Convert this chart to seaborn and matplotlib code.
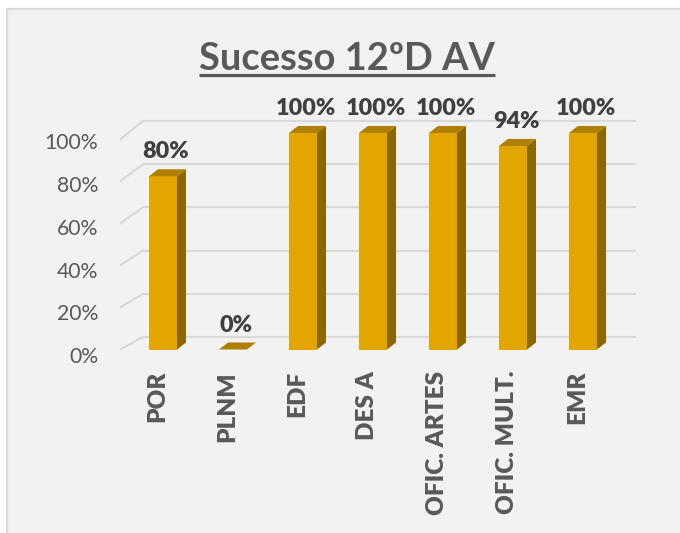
import matplotlib
matplotlib.use("Agg")
import matplotlib.pyplot as plt
from matplotlib.patches import Rectangle, Polygon
from matplotlib.lines import Line2D
from matplotlib.transforms import ScaledTranslation
import seaborn as sns
import pandas as pd

# Chart data
categories = ["POR", "PLNM", "EDF", "DES A", "OFIC. ARTES", "OFIC. MULT.", "EMR"]
success = [0.80, 0.00, 1.00, 1.00, 1.00, 0.94, 1.00]
tick_values = [0.0, 0.2, 0.4, 0.6, 0.8, 1.0]
tick_labels = ["0%", "20%", "40%", "60%", "80%", "100%"]
title = "Sucesso 12ºD AV"

# Styling
FRONT = "#E3A600"
SIDE = "#8C6700"
TOP = "#AF8000"
GRID = "#D9D9D9"
TEXT = "#595959"
LABEL = "#404040"
BG = "#F2F2F2"
FONT = "Lato"

sns.set_theme(style="white")
plt.rcParams["font.family"] = [FONT, "DejaVu Sans"]

W, H, DPI = 680, 533, 100
fig = plt.figure(figsize=(W / DPI, H / DPI), dpi=DPI)
fig.patch.set_facecolor("white")

# chart frame
fig.patches.append(Rectangle((7 / W, -0.2), 1.3, 1.2 - 9 / H, transform=fig.transFigure,
                             facecolor=BG, edgecolor=GRID, lw=1.6, zorder=-10))

# plot area: front plane spans pixel x 120..636, y 110..349.5
ax_l, ax_r, ax_t, ax_b = 120, 636, 110, 349.5
ax = fig.add_axes([ax_l / W, 1 - ax_b / H, (ax_r - ax_l) / W, (ax_b - ax_t) / H])
ax.set_facecolor("none")

df = pd.DataFrame({"cat": categories, "val": success})
sns.barplot(data=df, x="cat", y="val", color=FRONT, saturation=1, width=0.4,
            ax=ax, zorder=3, linewidth=0)

x_lo, x_hi = -0.614, 6.757
y_hi = 1.106
ax.set_xlim(x_lo, x_hi)
ax.set_ylim(0, y_hi)
for s in ax.spines.values():
    s.set_visible(False)

# pixel -> data conversion factors
px_x = (ax_r - ax_l) / (x_hi - x_lo)
px_y = (ax_b - ax_t) / y_hi

# back wall gridlines and side-wall diagonals
bx, by = 23 / px_x, 12.5 / px_y
for v in tick_values:
    yb = v * 216 / 216.5 + by
    ax.plot([x_lo + bx, x_hi], [yb, yb], color=GRID, lw=1.6, zorder=1,
            solid_capstyle="butt")
    yf = v * 210 / 216.5
    ax.plot([x_lo, x_lo + bx], [yf, yb], color=GRID, lw=1.6, zorder=1)

# depth faces for each bar
dx, dy = 9 / px_x, 7 / px_y
for p, v in zip(list(ax.patches), success):
    x0 = p.get_x()
    w = p.get_width()
    h = p.get_height()
    side = Polygon([(x0 + w, 0), (x0 + w + dx, dy), (x0 + w + dx, h + dy), (x0 + w, h)],
                   closed=True, facecolor=SIDE, edgecolor="none", zorder=2)
    top = Polygon([(x0, h), (x0 + w, h), (x0 + w + dx, h + dy), (x0 + dx, h + dy)],
                  closed=True, facecolor=TOP, edgecolor="none", zorder=4)
    ax.add_patch(side)
    ax.add_patch(top)
    ax.text(x0 + w / 2, h, f"{v:.0%}",
            transform=ax.transData + ScaledTranslation(3 / DPI, 18 / DPI, fig.dpi_scale_trans),
            ha="center", va="baseline", fontsize=16.8, fontweight="heavy", color=LABEL)

# axis ticks and labels
ax.set_yticks(tick_values)
ax.set_yticklabels(tick_labels, fontsize=15.2, color=TEXT)
ax.tick_params(axis="y", length=0, pad=22 * 72 / DPI)
ax.tick_params(axis="x", length=0, pad=21.5 * 72 / DPI)
ax.set_xticks(range(len(categories)))
ax.set_xticklabels(categories, rotation=90, fontsize=17.5, fontweight="heavy", color=TEXT,
                   va="top", ha="center")
ax.set_xlabel("")
ax.set_ylabel("")
for t, v in zip(ax.yaxis.get_major_ticks(), tick_values):
    t.label1.set_transform(t.label1.get_transform()
                           + ScaledTranslation(0, -(5.5 + 3 * v) / DPI, fig.dpi_scale_trans))
for t in ax.xaxis.get_major_ticks():
    t.label1.set_transform(t.label1.get_transform()
                           + ScaledTranslation(-6 / DPI, 0, fig.dpi_scale_trans))

# title with underline
ttl = fig.text(347 / W, 1 - 70 / H, title, ha="center", va="baseline",
               fontsize=27.4, fontweight="bold", color=TEXT)
fig.canvas.draw()
bb = ttl.get_window_extent(fig.canvas.get_renderer())
uy = (H - 75) / H
fig.lines.append(Line2D([bb.x0 / W, bb.x1 / W], [uy, uy], transform=fig.transFigure,
                        color=TEXT, lw=3.2 * 72 / DPI, solid_capstyle="butt"))

fig.savefig("out.png", dpi=DPI, facecolor=fig.get_facecolor())
